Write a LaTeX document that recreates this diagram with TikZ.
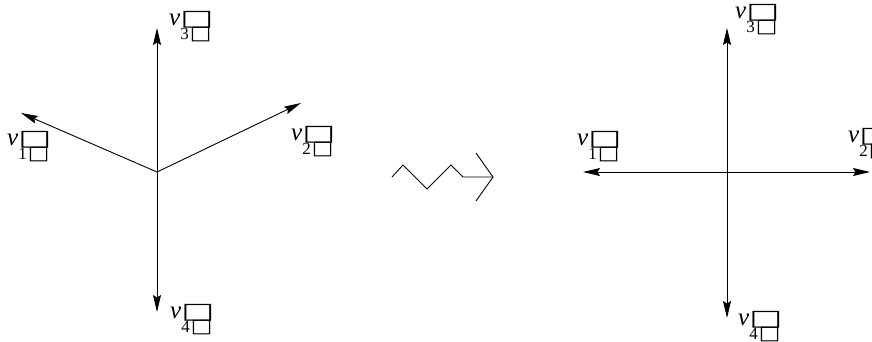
\documentclass[tikz,border=0pt]{standalone}
\usepackage{fontspec}
\setmainfont{Liberation Serif}
\newfontfamily\boxfont{DejaVu Sans}
\usetikzlibrary{arrows.meta}
\newcommand{\vlab}[1]{\textit{v}\makebox[0pt][l]{\raisebox{-14.5pt}{\fontsize{17}{17}\selectfont #1\kern1pt\boxfont\fontsize{19}{19}\selectfont\scalebox{1.2}[1]{□}}}{\boxfont\fontsize{25}{25}\selectfont\scalebox{1.4}[0.88]{□}}}
\tikzset{
  vec/.style={line width=0.9pt,-{Stealth[length=17pt,width=8pt,inset=2.5pt]}},
  lab/.style={anchor=base west,inner sep=0pt,font=\fontsize{25}{25}\selectfont},
  squig/.style={line width=0.9pt}
}
\begin{document}
\begin{tikzpicture}[x=1pt,y=-1pt]
\useasboundingbox (0,0) rectangle (872,341);
% left figure
\coordinate (c1) at (157,172);
\coordinate (a1) at (21,113);
\coordinate (a2) at (301,103);
\coordinate (a3) at (157,28);
\coordinate (a4) at (157,312);
\draw[vec] (c1) -- (a1);
\draw[vec] (c1) -- (a2);
\draw[vec] (c1) -- (a3);
\draw[vec] (c1) -- (a4);
\node[lab] (l1) at (7,145) {\vlab{1}};
\node[lab] (l2) at (291,140) {\vlab{2}};
\node[lab] (l3) at (169,25) {\vlab{3}};
\node[lab] (l4) at (170,318) {\vlab{4}};
% squiggle arrow
\coordinate (s0) at (392,177);
\coordinate (s1) at (403,165);
\coordinate (s2) at (427,189);
\coordinate (s3) at (451,165);
\coordinate (s4) at (463,177);
\coordinate (s5) at (493,177);
\coordinate (h1) at (476,153);
\coordinate (h2) at (476,201);
\draw[squig] (s0) -- (s1) -- (s2) -- (s3) -- (s4) -- (s5);
\draw[squig] (h1) -- (s5) -- (h2);
% right figure
\coordinate (c2) at (727,172);
\coordinate (b1) at (583,172);
\coordinate (b2) at (870,172);
\coordinate (b3) at (727,28);
\coordinate (b4) at (727,318);
\draw[vec] (c2) -- (b1);
\draw[vec] (c2) -- (b2);
\draw[vec] (c2) -- (b3);
\draw[vec] (c2) -- (b4);
\node[lab] (r1) at (577,145) {\vlab{1}};
\node[lab] (r2) at (848,142) {\vlab{2}};
\node[lab] (r3) at (735,18) {\vlab{3}};
\node[lab] (r4) at (738,325) {\vlab{4}};
\end{tikzpicture}
\end{document}
